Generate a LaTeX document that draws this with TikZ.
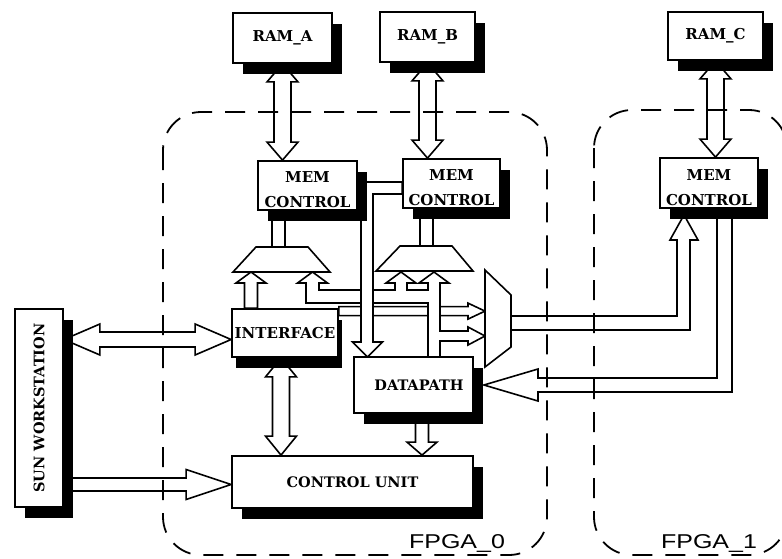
\documentclass[tikz,border=0pt]{standalone}
\usepackage{fontspec}
\setmainfont{DejaVu Serif}
\newfontfamily\labfont{Liberation Sans}
\usetikzlibrary{calc,shadows}
\pgfdeclarelayer{bg}
\pgfsetlayers{bg,main}
\tikzset{
  blk/.style={draw, line width=1.8pt, fill=white, inner sep=0pt, align=center,
    font=\bfseries\fontsize{15}{16}\selectfont,
    drop shadow={shadow xshift=#1pt, shadow yshift=-11pt, fill=black, opacity=1}},
  blk/.default=10,
  memtxt/.style={font=\bfseries\fontsize{15}{25}\selectfont},
  bus/.style={draw, line width=1.6pt, fill=white, line join=miter},
  muxs/.style={draw, line width=1.6pt, fill=white},
  fpga/.style={draw, line width=1.8pt, dash pattern=on 20pt off 13pt, rounded corners=38pt},
  fpgalab/.style={font=\labfont\fontsize{20}{20}\selectfont, inner sep=0pt}
}
% vertical, heads at both ends (#1 top tip, #2 bottom tip), #3 shaft half, #4 head half, #5 head length
\newcommand\busVV[5]{\path[bus] let \p1=(#1),\p2=(#2) in (\x1,\y1) -- (\x1+#4pt,\y1-#5pt) -- (\x1+#3pt,\y1-#5pt) -- (\x1+#3pt,\y2+#5pt) -- (\x1+#4pt,\y2+#5pt) -- (\x1,\y2) -- (\x1-#4pt,\y2+#5pt) -- (\x1-#3pt,\y2+#5pt) -- (\x1-#3pt,\y1-#5pt) -- (\x1-#4pt,\y1-#5pt) -- cycle;}
% vertical, head at bottom (#1 top start, #2 bottom tip)
\newcommand\busVD[5]{\path[bus] let \p1=(#1),\p2=(#2) in (\x1-#3pt,\y1) -- (\x1+#3pt,\y1) -- (\x1+#3pt,\y2+#5pt) -- (\x1+#4pt,\y2+#5pt) -- (\x1,\y2) -- (\x1-#4pt,\y2+#5pt) -- (\x1-#3pt,\y2+#5pt) -- cycle;}
% vertical, head at top (#1 top tip, #2 bottom start)
\newcommand\busVU[5]{\path[bus] let \p1=(#1),\p2=(#2) in (\x1,\y1) -- (\x1+#4pt,\y1-#5pt) -- (\x1+#3pt,\y1-#5pt) -- (\x1+#3pt,\y2) -- (\x1-#3pt,\y2) -- (\x1-#3pt,\y1-#5pt) -- (\x1-#4pt,\y1-#5pt) -- cycle;}
% horizontal, heads at both ends (#1 left tip, #2 right tip)
\newcommand\busHH[5]{\path[bus] let \p1=(#1),\p2=(#2) in (\x1,\y1) -- (\x1+#5pt,\y1+#4pt) -- (\x1+#5pt,\y1+#3pt) -- (\x2-#5pt,\y1+#3pt) -- (\x2-#5pt,\y1+#4pt) -- (\x2,\y1) -- (\x2-#5pt,\y1-#4pt) -- (\x2-#5pt,\y1-#3pt) -- (\x1+#5pt,\y1-#3pt) -- (\x1+#5pt,\y1-#4pt) -- cycle;}
% horizontal, head at right (#1 left start, #2 right tip)
\newcommand\busHR[5]{\path[bus] let \p1=(#1),\p2=(#2) in (\x1,\y1+#3pt) -- (\x2-#5pt,\y1+#3pt) -- (\x2-#5pt,\y1+#4pt) -- (\x2,\y1) -- (\x2-#5pt,\y1-#4pt) -- (\x2-#5pt,\y1-#3pt) -- (\x1,\y1-#3pt) -- cycle;}
\begin{document}
\begin{tikzpicture}[x=1pt,y=-1pt]
\useasboundingbox (0,0) rectangle (782,558);
\clip (0,0) rectangle (782,558);

% ---------- blocks ----------
\node[blk, minimum width=99pt, minimum height=50pt] (ramA) at (282.5,38) {RAM\_A};
\node[blk, minimum width=95pt, minimum height=50pt] (ramB) at (427.5,37) {RAM\_B};
\node[blk, minimum width=95pt, minimum height=48pt] (ramC) at (715.5,36) {RAM\_C};
\node[blk, memtxt, minimum width=99pt, minimum height=49pt] (memA) at (307.5,185.5) {\rule{0pt}{20pt}MEM\\CONTROL};
\node[blk, memtxt, minimum width=97pt, minimum height=49pt] (memB) at (451.5,183.5) {\rule{0pt}{20pt}MEM\\CONTROL};
\node[blk, memtxt, minimum width=98pt, minimum height=50pt] (memC) at (709,183) {\rule{0pt}{20pt}MEM\\CONTROL};
\node[blk=4, minimum width=106pt, minimum height=48pt] (iface) at (285,333) {INTERFACE};
\node[blk, font=\bfseries\fontsize{14.5}{16}\selectfont, minimum width=119pt, minimum height=56pt] (dpath) at (413.5,385) {\hspace*{11pt}DATAPATH};
\node[blk, font=\bfseries\fontsize{14.5}{16}\selectfont, minimum width=241pt, minimum height=52pt] (cu) at (352.5,482) {CONTROL UNIT};
\node[blk, font=\bfseries\fontsize{14.5}{16}\selectfont, minimum width=48pt, minimum height=198pt] (sun) at (39,408) {\rotatebox{90}{SUN WORKSTATION}};

% ---------- multiplexers ----------
\coordinate (mA1) at (256,247); \coordinate (mA2) at (308,247);
\coordinate (mA3) at (330,272); \coordinate (mA4) at (233,272);
\coordinate (mB1) at (400,246); \coordinate (mB2) at (452,246);
\coordinate (mB3) at (473,271); \coordinate (mB4) at (376,271);
\coordinate (rm1) at (485,270); \coordinate (rm2) at (511,295);
\coordinate (rm3) at (511,347); \coordinate (rm4) at (485,367);
\draw[muxs] (mA1) -- (mA2) -- (mA3) -- (mA4) -- cycle;
\draw[muxs] (mB1) -- (mB2) -- (mB3) -- (mB4) -- cycle;
\draw[muxs] (rm1) -- (rm2) -- (rm3) -- (rm4) -- cycle;

% ---------- FPGA regions ----------
\draw[fpga] (163,112) rectangle (547,555);
\draw[fpga] (594,110) rectangle (787,555);
\node[fpgalab] (lab0) at (457,543) {\scalebox{1.25}[1]{FPGA\_0}};
\node[fpgalab] (lab1) at (709,543) {\scalebox{1.25}[1]{FPGA\_1}};

% ---------- connectors ----------
\begin{pgfonlayer}{bg}
% RAM <-> MEM CONTROL
\busVV{ramA.south}{ramA.south |- memA.north}{8.5}{15.5}{18}
\busVV{ramB.south}{ramB.south |- memB.north}{8.5}{15.5}{18}
\busVV{ramC.south}{ramC.south |- memC.north}{8.5}{15.5}{18}
% MEM CONTROL -> mux stems
\coordinate (mAs) at (278.5,247);
\coordinate (mBs) at (426.5,246);
\draw[bus] ($(mAs |- memA.south)+(-6.5,0)$) rectangle ($(mAs)+(6.5,0)$);
\draw[bus] ($(mBs |- memB.south)+(-6.5,0)$) rectangle ($(mBs)+(6.5,0)$);
% INTERFACE <-> CONTROL UNIT
\coordinate (ic1) at ($(iface.south)+(-4,0)$);
\coordinate (ic2) at (ic1 |- cu.north);
\busVV{ic1}{ic2}{8.5}{15.5}{19}
% SUN <-> INTERFACE
\coordinate (si1) at ($(sun.east |- iface.west)+(0,6.5)$);
\coordinate (si2) at (si1 -| iface.west);
\busHH{si1}{si2}{7.5}{15.5}{36}
% SUN -> CONTROL UNIT
\coordinate (sc1) at ($(sun.east |- cu.west)+(0,2.5)$);
\coordinate (sc2) at (sc1 -| cu.west);
\busHR{sc1}{sc2}{6.5}{15}{45}
% DATAPATH -> CONTROL UNIT
\coordinate (dc1) at ($(dpath.south)+(8.5,0)$);
\coordinate (dc2) at (dc1 |- cu.north);
\busVD{dc1}{dc2}{6.5}{15}{13}
% INTERFACE -> right mux
\coordinate (ib1) at ($(iface.north east)+(0,3)$);
\coordinate (ib2) at (ib1 -| rm1);
\busHR{ib1}{ib2}{4.5}{8}{17}
% INTERFACE -> mux A (left input)
\coordinate (mAl) at (251,272);
\busVU{mAl}{mAl |- iface.north}{6.5}{15}{11}
% DATAPATH output bus tree -> mux A, mux B (both inputs), right mux
\path[bus] (428,357) -- (428,303) -- (306,303) -- (306,283) -- (297.5,283) -- (312.5,272)
  -- (327.5,283) -- (319,283) -- (319,290) -- (395,290) -- (395,283) -- (386,283)
  -- (401,272) -- (416,283) -- (407,283) -- (407,290) -- (428,290) -- (428,283)
  -- (419,283) -- (434,272) -- (449,283) -- (440,283) -- (440,331) -- (468,331)
  -- (468,327) -- (rm1 |- 0,336) -- (468,345) -- (468,341) -- (440,341) -- (440,357) -- cycle;
% right mux -> MEM CONTROL C
\path[bus] (rm2 |- 0,316) -- (677,316) -- (677,240) -- (670,240) -- ($(memC.south)+(-25,6)$)
  -- (698,240) -- (690,240) -- (690,330) -- (rm2 |- 0,330) -- cycle;
% MEM CONTROL C -> DATAPATH
\path[bus] ($(memC.south)+(8,0)$) -- (717,378) -- (538,378) -- (538,369) -- ($(dpath.east)+(10,0)$)
  -- (538,401) -- (538,392) -- (732,392) -- ($(memC.south)+(23,0)$) -- cycle;
% MEM CONTROL A/B -> DATAPATH
\path[bus] (memA.east |- 0,182) -- (memB.west |- 0,182) -- (memB.west |- 0,194) -- (373,194)
  -- (373,342) -- (382.5,342) -- (367.5,357) -- (352.5,342) -- (361,342) -- (361,194)
  -- (memA.east |- 0,194) -- cycle;
\end{pgfonlayer}
\end{tikzpicture}
\end{document}
